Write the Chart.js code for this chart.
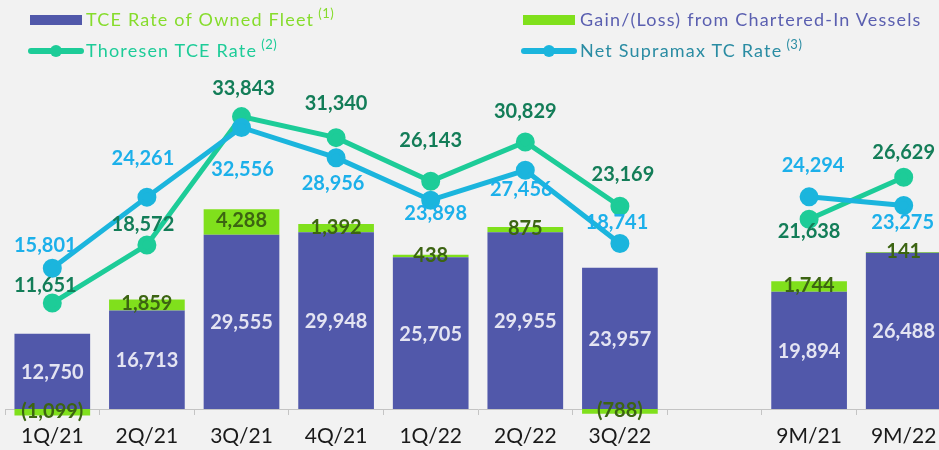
<!DOCTYPE html>
<html>
<head>
<meta charset="utf-8">
<script src="https://cdn.jsdelivr.net/npm/chart.js@4"></script>
<style>
    html, body { margin: 0; padding: 0; background: #f2f2f2; overflow: hidden; }
    #wrap { position: relative; width: 939px; height: 450px; overflow: hidden; }
    #chart { position: absolute; left: 0; top: 0; }
    .leg { position: absolute; font-family: Lato, sans-serif; font-size: 18px; letter-spacing: 1.2px; white-space: nowrap; line-height: 20px; }
    .leg sup { font-size: 13px; vertical-align: 8px; line-height: 0; margin-left: 4px; letter-spacing: 0.5px; }
    .box { position: absolute; width: 52px; height: 10px; }
    .mark { position: absolute; width: 56px; height: 6px; border-radius: 3px; }
    .mark i { position: absolute; left: 22px; top: -3px; width: 12px; height: 12px; border-radius: 6px; background: inherit; }
</style>
</head>
<body>
<div id="wrap">
    <canvas id="chart" width="960" height="450" style="width:960px;height:450px"></canvas>

    <!-- leyenda a mano (colores de texto cruzados como en el original) -->
    <div class="box" style="left:30px; top:15px; background:#5158aa;"></div>
    <div class="leg" style="left:86px; top:9px; color:#86dc2c;">TCE Rate of Owned Fleet<sup>(1)</sup></div>

    <div class="box" style="left:523px; top:15px; background:#80e01c;"></div>
    <div class="leg" style="left:580px; top:9px; color:#5a5fb0;">Gain/(Loss) from Chartered-In Vessels</div>

    <div class="mark" style="left:28px; top:48px; background:#1dcc98;"><i></i></div>
    <div class="leg" style="left:86px; top:40px; color:#1dcc98;">Thoresen TCE Rate<sup>(2)</sup></div>

    <div class="mark" style="left:521px; top:48px; background:#1bb5dd;"><i></i></div>
    <div class="leg" style="left:580px; top:40px; color:#2a8ca3;">Net Supramax TC Rate<sup>(3)</sup></div>
</div>

<script>
// =========================
// DATOS
// =========================
const categorias = ['1Q/21', '2Q/21', '3Q/21', '4Q/21', '1Q/22', '2Q/22', '3Q/22', '', '9M/21', '9M/22'];
const tceFlota   = [12750, 16713, 29555, 29948, 25705, 29955, 23957, null, 19894, 26488];
const gananciaCh = [-1099, 1859, 4288, 1392, 438, 875, -788, null, 1744, 141];
const thoresen   = [11651, 18572, 33843, 31340, 26143, 30829, 23169, null, 21638, 26629];
const supramax   = [15801, 24261, 32556, 28956, 23898, 27456, 18741, null, 24294, 23275];

// desplazamiento de las etiquetas de las líneas (dx, dy) respecto al punto
const offThoresen = [[-7,-18],[-4,-20],[2,-28],[0,-34],[0,-41],[0,-30],[3,-32],null,[0,12],[0,-25]];
const offSupramax = [[-7,-23],[-4,-39],[1,42],[-3,26],[5,13],[-4,19],[-3,-21],null,[4,-31],[-1,17]];

const fmt = v => v < 0 ? '(' + Math.abs(v).toLocaleString('en-US') + ')' : v.toLocaleString('en-US');

// =========================
// ETIQUETAS DE VALORES
// =========================
const etiquetas = {
    id: 'etiquetas',
    afterDatasetsDraw(chart) {
        const ctx = chart.ctx;
        ctx.save();
        ctx.font = 'bold 20px Lato';
        ctx.textAlign = 'center';
        ctx.textBaseline = 'middle';

        // barras propias (blanco, centrado)
        chart.getDatasetMeta(2).data.forEach((bar, i) => {
            if (tceFlota[i] == null) return;
            ctx.fillStyle = '#e4e4f2';
            ctx.fillText(fmt(tceFlota[i]), bar.x, (bar.y + bar.base) / 2 + 1);
        });

        // ganancia/pérdida (verde oscuro, sobre el segmento)
        chart.getDatasetMeta(3).data.forEach((bar, i) => {
            if (gananciaCh[i] == null) return;
            ctx.fillStyle = '#3c6412';
            ctx.fillText(fmt(gananciaCh[i]), bar.x, (bar.y + bar.base) / 2 - 1);
        });

        // líneas
        const pintarLinea = (idx, valores, offs, color) => {
            chart.getDatasetMeta(idx).data.forEach((p, i) => {
                if (valores[i] == null) return;
                ctx.fillStyle = color;
                ctx.fillText(fmt(valores[i]), p.x + offs[i][0], p.y + offs[i][1]);
            });
        };
        pintarLinea(1, thoresen, offThoresen, '#137d58');
        pintarLinea(0, supramax, offSupramax, '#1cb0ea');
        ctx.restore();
    }
};

new Chart(document.getElementById('chart'), {
    type: 'bar',
    data: {
        labels: categorias,
        datasets: [
            {
                type: 'line',
                label: 'Net Supramax TC Rate',
                data: supramax,
                yAxisID: 'y2',
                borderColor: '#1bb5dd',
                backgroundColor: '#1bb5dd',
                borderWidth: 5,
                pointRadius: 7,
                pointHoverRadius: 7,
                spanGaps: false,
                order: 0
            },
            {
                type: 'line',
                label: 'Thoresen TCE Rate',
                data: thoresen,
                yAxisID: 'y2',
                borderColor: '#1dcc98',
                backgroundColor: '#1dcc98',
                borderWidth: 5,
                pointRadius: 7,
                pointHoverRadius: 7,
                spanGaps: false,
                order: 1
            },
            {
                label: 'TCE Rate of Owned Fleet',
                data: tceFlota,
                yAxisID: 'y',
                backgroundColor: '#5158aa',
                stack: 's',
                barPercentage: 0.8,
                categoryPercentage: 1,
                order: 2
            },
            {
                label: 'Gain/(Loss) from Chartered-In Vessels',
                data: gananciaCh,
                yAxisID: 'y',
                backgroundColor: '#80e01c',
                stack: 's',
                barPercentage: 0.8,
                categoryPercentage: 1,
                clip: false,
                order: 2
            }
        ]
    },
    options: {
        responsive: false,
        animation: false,
        layout: { autoPadding: false, padding: { left: 5, right: 9, top: 60, bottom: 0 } },
        plugins: {
            legend: { display: false },
            tooltip: { enabled: false }
        },
        scales: {
            x: {
                stacked: true,
                afterFit: s => { s.height = 41; },
                grid: { display: true, drawOnChartArea: false, drawTicks: true, tickLength: 6, offset: true, color: '#c4c4c4' },
                border: { display: true, color: '#c4c4c4' },
                ticks: { color: '#1a1a1a', font: { family: 'Lato', size: 21 }, padding: 9, maxRotation: 0, autoSkip: false }
            },
            y: {
                stacked: true,
                display: false,
                min: 0,
                max: 59155
            },
            y2: {
                display: false,
                min: -952,
                max: 40579
            }
        }
    },
    plugins: [etiquetas]
});
</script>
</body>
</html>
